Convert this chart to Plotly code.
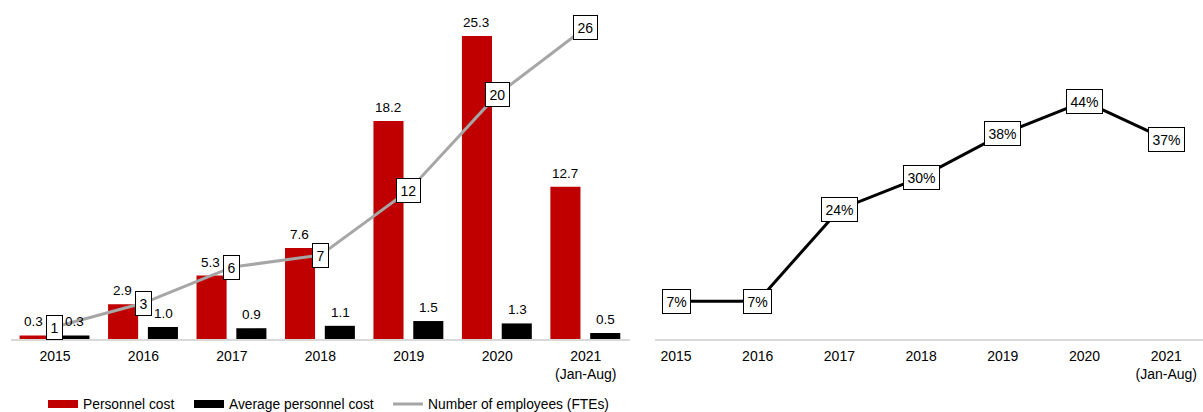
import plotly.graph_objects as go

# ---- data ----
years = ["2015", "2016", "2017", "2018", "2019", "2020", "2021<br>(Jan-Aug)"]
personnel_cost = [0.3, 2.9, 5.3, 7.6, 18.2, 25.3, 12.7]
avg_personnel_cost = [0.3, 1.0, 0.9, 1.1, 1.5, 1.3, 0.5]
employees = [1, 3, 6, 7, 12.4, 20.4, 26]
employee_labels = ["1", "3", "6", "7", "12", "20", "26"]
share_pct = [7, 7, 24, 30, 38, 44, 37]

RED = "#C00000"
BLACK = "#000000"
GREY = "#A6A6A6"
FONT = "Liberation Sans, Arial, sans-serif"

W, H = 1203, 412

fig = go.Figure()

fig.add_bar(x=years, y=personnel_cost, marker_color=RED, marker_line_width=0,
            width=0.34, offset=-0.40, showlegend=False, xaxis="x", yaxis="y")
fig.add_bar(x=years, y=avg_personnel_cost, marker_color=BLACK, marker_line_width=0,
            width=0.34, offset=0.05, showlegend=False, xaxis="x", yaxis="y")
fig.add_scatter(x=years, y=employees, mode="lines", line=dict(color=GREY, width=3),
                showlegend=False, xaxis="x", yaxis="y")
fig.add_scatter(x=years, y=share_pct, mode="lines", line=dict(color=BLACK, width=3),
                showlegend=False, xaxis="x2", yaxis="y2")

# legend proxies (swatches), each in its own legend so positions can be set
fig.add_scatter(x=[None], y=[None], mode="lines", line=dict(color=RED, width=8),
                name="Personnel cost", xaxis="x", yaxis="y", legend="legend")
fig.add_scatter(x=[None], y=[None], mode="lines", line=dict(color=BLACK, width=8),
                name="Average personnel cost", xaxis="x", yaxis="y", legend="legend2")
fig.add_scatter(x=[None], y=[None], mode="lines", line=dict(color=GREY, width=3),
                name="Number of employees (FTEs)", xaxis="x", yaxis="y", legend="legend3")

ann = []
for i, v in enumerate(personnel_cost):
    ann.append(dict(x=i, y=v, xref="x", yref="y", text=f"{v:.1f}", showarrow=False,
                    yanchor="bottom", xshift=-21, yshift=4,
                    font=dict(family=FONT, size=13.5, color="#000")))
for i, v in enumerate(avg_personnel_cost):
    ann.append(dict(x=i, y=v, xref="x", yref="y", text=f"{v:.1f}", showarrow=False,
                    yanchor="bottom", xshift=20, yshift=4,
                    font=dict(family=FONT, size=13.5, color="#000")))
for i, (v, lab) in enumerate(zip(employees, employee_labels)):
    ann.append(dict(x=i, y=v, xref="x", yref="y", text=lab, showarrow=False,
                    bgcolor="white", bordercolor="#000", borderwidth=1, borderpad=3.5,
                    font=dict(family=FONT, size=14, color="#000")))
for i, v in enumerate(share_pct):
    ann.append(dict(x=i, y=v, xref="x2", yref="y2", text=f"{v}%", showarrow=False,
                    bgcolor="white", bordercolor="#000", borderwidth=1, borderpad=3.5,
                    font=dict(family=FONT, size=14, color="#000")))

axis_common = dict(type="category", showline=True, linecolor="#D9D9D9", linewidth=1.5,
                   ticks="", showgrid=False, zeroline=False, ticklabelstandoff=3,
                   tickfont=dict(family=FONT, size=14, color="#000"))

legend_common = dict(orientation="h", xanchor="left", y=-0.192, yref="paper",
                     yanchor="middle", font=dict(family=FONT, size=13.8, color="#000"),
                     itemwidth=30, bgcolor="rgba(0,0,0,0)")

fig.update_layout(
    width=W, height=H,
    margin=dict(l=0, r=0, t=0, b=73, autoexpand=False),
    paper_bgcolor="white", plot_bgcolor="white",
    barmode="overlay",
    font=dict(family=FONT, size=14, color="#000"),
    xaxis=dict(domain=[10.75 / W, 630 / W], range=[-0.5, 6.5], anchor="y",
               categoryorder="array", categoryarray=years, **axis_common),
    yaxis=dict(domain=[0, 1], range=[0, 28.3], visible=False, anchor="x"),
    xaxis2=dict(domain=[655 / W, 1], range=[-0.257, 6.45], anchor="y2",
                categoryorder="array", categoryarray=years, **axis_common),
    yaxis2=dict(domain=[0, 1], range=[0, 62.8], visible=False, anchor="x2"),
    legend=dict(x=43 / W, **legend_common),
    legend2=dict(x=189 / W, **legend_common),
    legend3=dict(x=388 / W, **legend_common),
    annotations=ann,
)

fig.write_html("out.html", config={"displayModeBar": False},
               post_script="document.body.style.margin='0px';")
